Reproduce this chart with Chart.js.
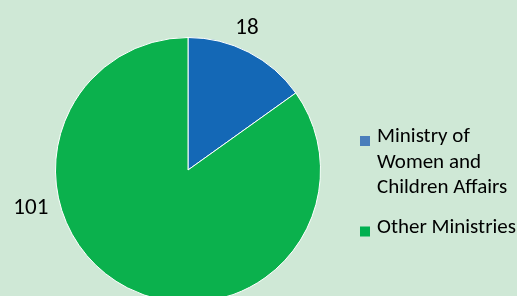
<!DOCTYPE html>
<html>
<head>
<meta charset="utf-8">
<script src="https://cdn.jsdelivr.net/npm/chart.js@4.4.0/dist/chart.umd.min.js"></script>
<style>
  html, body { margin: 0; padding: 0; background: #cfe8d6; overflow: hidden; }
  #wrap { position: relative; width: 517px; height: 296px; overflow: hidden; }
  canvas { position: absolute; left: 0; top: 0; }
</style>
</head>
<body>
<div id="wrap"><canvas id="pieChart" width="517" height="306"></canvas></div>
<script>
var categories = [["Ministry of", "Women and", "Children Affairs"], ["Other Ministries"]];
var values = [18, 101];
var sliceColors = ["#1468b6", "#0bb14d"];
var legendColors = ["#4a7ebb", "#00b050"];

var FONT = "Calibri, Carlito, Lato, 'Open Sans', sans-serif";

// value labels placed around the pie, Excel "best fit" style
var valueLabels = {
    id: 'valueLabels',
    afterDatasetsDraw: function (chart) {
        var ctx = chart.ctx;
        var meta = chart.getDatasetMeta(0);
        var ang = [-1.177, 2.905];   // angle of each label around the centre
        var dist = [1.16, 1.22];
        ctx.save();
        ctx.fillStyle = "#000";
        ctx.font = "23px " + FONT;
        ctx.textAlign = "center";
        ctx.textBaseline = "middle";
        meta.data.forEach(function (arc, i) {
            var r = arc.outerRadius * dist[i];
            ctx.fillText(String(values[i]), arc.x + Math.cos(ang[i]) * r, arc.y + Math.sin(ang[i]) * r);
        });
        ctx.restore();
    }
};

var sideLegend = {
    id: 'sideLegend',
    afterDraw: function (chart) {
        var ctx = chart.ctx;
        var x = 362, y = 137;
        ctx.save();
        ctx.font = "21px " + FONT;
        ctx.textBaseline = "middle";
        categories.forEach(function (lines, i) {
            ctx.fillStyle = legendColors[i];
            ctx.fillRect(x - 2, y - 1, 10, 10);
            ctx.fillStyle = "#000";
            lines.forEach(function (t, j) {
                ctx.fillText(t, x + 15, y + j * 25.5);
            });
            y += lines.length * 25.5 + 14;
        });
        ctx.restore();
    }
};

new Chart(document.getElementById("pieChart").getContext("2d"), {
    type: 'pie',
    data: {
        labels: categories.map(function (c) { return c.join(" "); }),
        datasets: [{
            data: values,
            backgroundColor: sliceColors,
            borderColor: "#ffffff",
            borderWidth: 1
        }]
    },
    options: {
        responsive: false,
        animation: false,
        layout: { padding: { left: 55, right: 196, top: 37, bottom: 3 } },
        plugins: {
            legend: { display: false },
            tooltip: { enabled: false }
        }
    },
    plugins: [valueLabels, sideLegend]
});
</script>
</body>
</html>
